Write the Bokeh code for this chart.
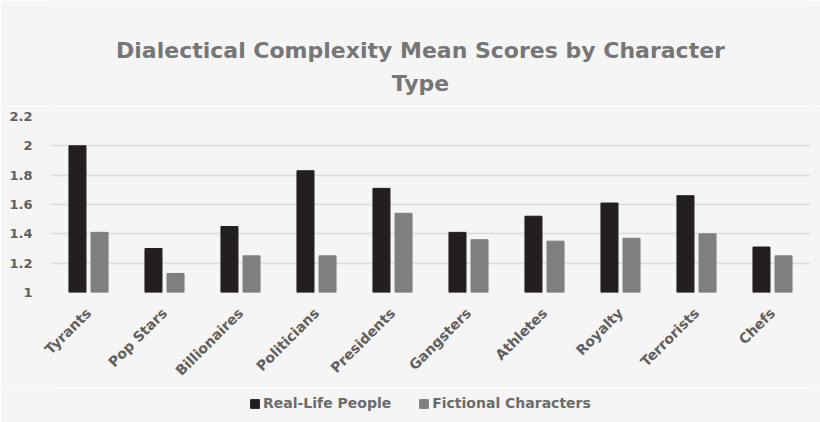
from math import pi
from bokeh.plotting import figure
from bokeh.layouts import column
from bokeh.core.properties import value
from bokeh.models import (ColumnDataSource, FactorRange, Legend, LegendItem,
                          FixedTicker, NumeralTickFormatter)
from bokeh.transform import dodge
from bokeh.embed import file_html
from bokeh.resources import INLINE

title_lines = ["Dialectical Complexity Mean Scores by Character", "Type"]
categories = ["Tyrants", "Pop Stars", "Billionaires", "Politicians", "Presidents",
              "Gangsters", "Athletes", "Royalty", "Terrorists", "Chefs"]
real_life = [2.00, 1.30, 1.45, 1.83, 1.71, 1.41, 1.52, 1.61, 1.66, 1.31]
fictional = [1.41, 1.13, 1.25, 1.25, 1.54, 1.36, 1.35, 1.37, 1.40, 1.25]
y_ticks = [1, 1.2, 1.4, 1.6, 1.8, 2, 2.2]

FONT = "DejaVu Sans"
BG = "#f5f5f5"
REAL_COLOR = "#231f20"
FIC_COLOR = "#7f7f7f"


def strip(h):
    # plain band without axes, used for the title and the legend
    # (column aligns its frame with the chart frame, 760px wide)
    f = figure(width=820, height=h, x_range=(0, 760), y_range=(0, h),
               x_axis_location=None, y_axis_location=None,
               output_backend="svg", toolbar_location=None,
               background_fill_color=BG, border_fill_color=BG, outline_line_color=None,
               min_border_left=0, min_border_right=0, min_border_top=0, min_border_bottom=0)
    f.grid.visible = False
    return f


# title band
top = strip(106)
top.text(x=[370, 370], y=[56, 23], text=title_lines, text_align="center",
         text_baseline="middle", text_font=value(FONT), text_font_style="bold",
         text_font_size="22px", text_color="#767676")

# chart
src = ColumnDataSource(data=dict(cat=categories, real=real_life, fic=fictional))

p = figure(x_range=FactorRange(*categories), y_range=(1, 2.2),
           frame_width=760, frame_height=176, output_backend="svg", toolbar_location=None,
           background_fill_color=BG, border_fill_color=BG, outline_line_color=None,
           min_border_left=50, min_border_right=10, min_border_top=10, min_border_bottom=92)

p.vbar(x=dodge("cat", -0.145, range=p.x_range), top="real", bottom=1, width=0.224,
       source=src, fill_color=REAL_COLOR, line_color=REAL_COLOR)
p.vbar(x=dodge("cat", 0.145, range=p.x_range), top="fic", bottom=1, width=0.224,
       source=src, fill_color=FIC_COLOR, line_color=FIC_COLOR)

p.xgrid.grid_line_color = None
p.ygrid.grid_line_color = "#dcdcdc"
p.ygrid.grid_line_width = 1.5
p.yaxis.ticker = FixedTicker(ticks=y_ticks)
p.yaxis.formatter = NumeralTickFormatter(format="0.[0]")

for ax in [p.xaxis[0], p.yaxis[0]]:
    ax.axis_line_color = None
    ax.major_tick_line_color = None
    ax.minor_tick_line_color = None
    ax.major_label_text_font = FONT
    ax.major_label_text_font_style = "bold"
    ax.major_label_text_color = "#606060"
p.yaxis.major_label_text_font_size = "13px"
p.xaxis.major_label_text_font_size = "14px"
p.xaxis.major_label_orientation = pi / 4
p.xaxis.major_label_standoff = 12
p.yaxis.major_label_standoff = 12

# legend band; proxy bars sit outside the visible range
leg = strip(38)
g1 = leg.vbar(x=[-50], top=[-50], width=1, fill_color=REAL_COLOR, line_color=REAL_COLOR)
g2 = leg.vbar(x=[-50], top=[-50], width=1, fill_color=FIC_COLOR, line_color=FIC_COLOR)
legend = Legend(items=[LegendItem(label="Real-Life People", renderers=[g1]),
                       LegendItem(label="Fictional Characters", renderers=[g2])],
                orientation="horizontal", location=(199, 14),
                background_fill_alpha=0, border_line_color=None,
                label_text_font=FONT, label_text_font_style="bold",
                label_text_font_size="14px", label_text_color="#6b6b6b",
                glyph_width=11, glyph_height=11, label_standoff=3,
                spacing=27, padding=0, margin=0)
leg.add_layout(legend, "center")

open("out.html", "w").write(file_html(column(top, p, leg, spacing=0), INLINE))
